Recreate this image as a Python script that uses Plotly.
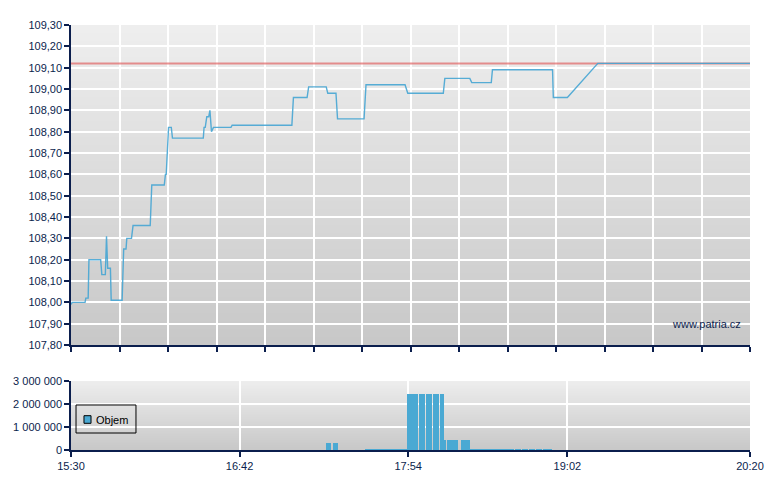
import plotly.graph_objects as go

DAY = "2024-03-15 "

# intraday price (time, price)
price_times = [
    "15:30:00", "15:30:30", "15:36:00", "15:36:20", "15:37:20", "15:37:40",
    "15:42:40", "15:43:10", "15:44:40", "15:45:10", "15:45:40", "15:46:50",
    "15:47:10", "15:51:50", "15:52:30", "15:53:30", "15:53:50", "15:55:50",
    "15:56:30", "16:03:50", "16:04:30", "16:09:50", "16:10:20", "16:10:40",
    "16:11:40", "16:12:50", "16:13:20", "16:26:30", "16:26:50", "16:27:20",
    "16:28:00", "16:28:50", "16:29:20", "16:30:00", "16:30:50", "16:38:20",
    "16:38:50", "17:04:20", "17:05:00", "17:10:50", "17:11:30", "17:19:00",
    "17:19:40", "17:23:10", "17:23:50", "17:35:10", "17:36:00", "17:52:40",
    "17:53:50", "18:09:00", "18:09:40", "18:20:20", "18:21:10", "18:29:30",
    "18:30:00", "18:55:40", "18:56:00", "19:02:00", "19:15:00", "20:20:00",
]
price_values = [
    107.99, 108.00, 108.00, 108.02, 108.02, 108.20,
    108.20, 108.13, 108.13, 108.31, 108.16, 108.16,
    108.01, 108.01, 108.25, 108.25, 108.30, 108.30,
    108.36, 108.36, 108.55, 108.55, 108.60, 108.60,
    108.82, 108.82, 108.77, 108.77, 108.82, 108.82,
    108.87, 108.87, 108.90, 108.80, 108.82, 108.82,
    108.83, 108.83, 108.96, 108.96, 109.01, 109.01,
    108.98, 108.98, 108.86, 108.86, 109.02, 109.02,
    108.98, 108.98, 109.05, 109.05, 109.03, 109.03,
    109.09, 109.09, 108.96, 108.96, 109.12, 109.12,
]

prev_close = 109.12

# traded volume per minute
vol_times = [
    "17:19:40", "17:20:40", "17:22:30", "17:23:30",
    "17:36", "17:37", "17:38", "17:39", "17:40", "17:41", "17:42", "17:43", "17:44",
    "17:45", "17:46", "17:47", "17:48", "17:49", "17:50", "17:51", "17:52", "17:53",
    "17:54", "17:55", "17:56", "17:57", "17:58", "17:59", "18:00", "18:01",
    "18:02", "18:03", "18:04", "18:05", "18:06", "18:07", "18:08", "18:09",
    "18:10", "18:11", "18:12", "18:13", "18:14", "18:15",
    "18:17", "18:18", "18:19", "18:20",
    "18:21", "18:22", "18:23", "18:24", "18:25", "18:26", "18:27", "18:28", "18:29",
    "18:30", "18:31", "18:32", "18:33", "18:34", "18:35", "18:36", "18:37", "18:38",
    "18:39", "18:40", "18:41", "18:42", "18:43", "18:44", "18:45", "18:46", "18:47",
    "18:48", "18:49", "18:50", "18:51", "18:52", "18:53", "18:54", "18:55",
]
vol_values = [
    300000, 300000, 300000, 300000,
    50000, 50000, 60000, 50000, 50000, 60000, 50000, 50000, 60000,
    50000, 50000, 60000, 50000, 50000, 60000, 50000, 50000, 60000,
    2420000, 2420000, 2420000, 2420000, 2420000, 2420000, 2420000, 2420000,
    2420000, 2420000, 2420000, 2420000, 2420000, 2420000, 2420000, 2420000,
    440000, 440000, 440000, 440000, 440000, 440000,
    440000, 440000, 440000, 440000,
    50000, 50000, 60000, 50000, 50000, 60000, 50000, 50000, 60000,
    50000, 50000, 60000, 50000, 50000, 60000, 50000, 50000, 60000,
    50000, 50000, 60000, 50000, 50000, 60000, 50000, 50000, 60000,
    50000, 50000, 60000, 50000, 50000, 60000, 50000, 50000,
]

time_labels = ["15:30", "16:42", "17:54", "19:02", "20:20"]

NAVY = "#0b1e4d"
BLUE = "#46a6d4"
BAR_BLUE = "#4aa9d3"

x_start = DAY + "15:30"
x_end = DAY + "20:20"

fig = go.Figure()

fig.add_trace(go.Scatter(
    x=[x_start, x_end], y=[prev_close, prev_close], mode="lines",
    line=dict(color="#e05a5a", width=2), opacity=0.65,
    xaxis="x", yaxis="y", showlegend=False, hoverinfo="skip",
))
fig.add_trace(go.Scatter(
    x=[DAY + t for t in price_times], y=price_values, mode="lines",
    line=dict(color=BLUE, width=1.4), opacity=0.9,
    xaxis="x", yaxis="y", showlegend=False,
))
fig.add_trace(go.Bar(
    x=[DAY + t for t in vol_times], y=vol_values, name="Objem",
    marker=dict(color=BAR_BLUE, line=dict(width=0)), width=44000,
    xaxis="x2", yaxis="y2", showlegend=False,
))

# vertical grey gradient behind both plot areas
shapes = []
n = 40
for xr, yr, top, bottom in (("x domain", "y domain", 238, 200), ("x2 domain", "y2 domain", 237, 200)):
    for i in range(n):
        c = round(top + (bottom - top) * (i + 0.5) / n)
        shapes.append(dict(
            type="rect", xref=xr, yref=yr, x0=0, x1=1,
            y0=max(0, 1 - (i + 1.6) / n), y1=1 - i / n,
            fillcolor=f"rgb({c},{c},{c})", line=dict(width=0), layer="below",
        ))

# hand-drawn legend box for the volume panel
shapes.append(dict(type="rect", xref="paper", yref="paper", x0=0.0074, x1=0.0957,
                   y0=0.04, y1=0.1059, line=dict(color="black", width=1)))
shapes.append(dict(type="rect", xref="paper", yref="paper", x0=0.0191, x1=0.0295,
                   y0=0.0628, y1=0.0807, fillcolor=BAR_BLUE, line=dict(color="black", width=1)))

axis_common = dict(
    showline=True, linecolor=NAVY, linewidth=1.5,
    ticks="outside", ticklen=5, tickcolor=NAVY, tickwidth=1.5,
    showgrid=True, gridcolor="white", gridwidth=1.5,
    zeroline=False, tickfont=dict(color=NAVY, size=11), automargin=False,
)

fig.update_layout(
    width=780, height=490,
    paper_bgcolor="white", plot_bgcolor="rgba(0,0,0,0)",
    # page body adds 8px, so margins are 8px smaller on the left/top
    margin=dict(l=63, r=38, t=17, b=48),
    font=dict(family="Liberation Sans, Arial, sans-serif", size=11, color=NAVY),
    separators=", ",
    shapes=shapes,
    bargap=0,
    showlegend=False,
    xaxis=dict(
        axis_common, type="date", range=[x_start, x_end], domain=[0, 1],
        anchor="y", tickmode="linear", tick0=x_start, dtick=290 * 60000 / 14,
        showticklabels=False,
    ),
    yaxis=dict(
        axis_common, domain=[0.247, 1], anchor="x", range=[107.8, 109.3],
        tickmode="linear", tick0=107.8, dtick=0.1, tickformat=".2f",
    ),
    xaxis2=dict(
        axis_common, type="date", range=[x_start, x_end], domain=[0, 1],
        anchor="y2", tickvals=[DAY + t for t in time_labels], ticktext=time_labels,
    ),
    yaxis2=dict(
        axis_common, domain=[0, 0.1624], anchor="x2", range=[0, 3000000],
        tickvals=[0, 1000000, 2000000, 3000000], tickformat=",d",
    ),
    annotations=[
        dict(
            text="www.patria.cz", xref="x domain", yref="y domain",
            x=0.99, y=0.066, xanchor="right", yanchor="middle", showarrow=False,
            font=dict(size=11, color=NAVY),
        ),
        dict(
            text="Objem", xref="paper", yref="paper",
            x=0.0335, y=0.0706, xanchor="left", yanchor="middle", showarrow=False,
            font=dict(size=11, color="black"),
        ),
    ],
)

fig.write_html("out.html")
